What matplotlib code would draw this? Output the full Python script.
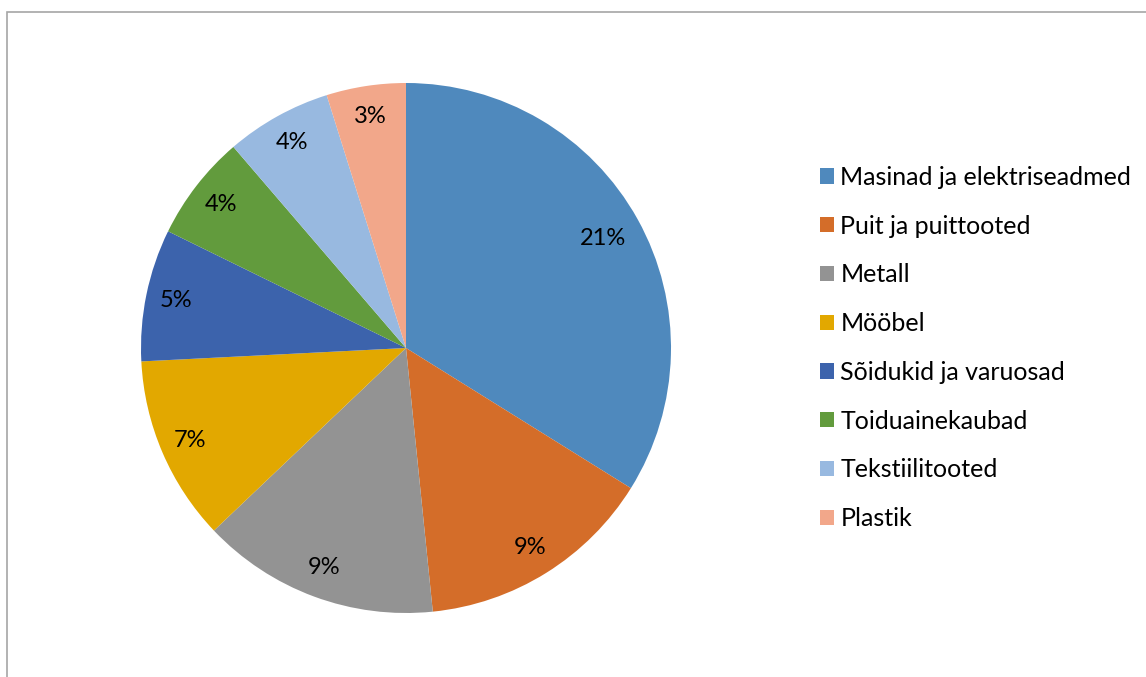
import numpy as np
import matplotlib.pyplot as plt
from matplotlib.patches import Patch, Rectangle

plt.rcParams['font.family'] = ['Lato', 'DejaVu Sans']

categories = [
    "Masinad ja elektriseadmed",
    "Puit ja puittooted",
    "Metall",
    "Mööbel",
    "Sõidukid ja varuosad",
    "Toiduainekaubad",
    "Tekstiilitooted",
    "Plastik",
]
shares = [21, 9, 9, 7, 5, 4, 4, 3]
share_labels = ["21%", "9%", "9%", "7%", "5%", "4%", "4%", "3%"]

COLORS = ["#4F89BD", "#D46D29", "#939393", "#E2A800",
          "#3C63AC", "#629B3D", "#98B9E0", "#F2A78A"]

W, H = 1146, 677
fig = plt.figure(figsize=(W / 100, H / 100), dpi=100)

# pie axes placed so the pie is centred at (406, 348) px with radius 265 px
cx, cy, r = 406, 348, 265
ax = fig.add_axes([(cx - r) / W, (H - cy - r) / H, 2 * r / W, 2 * r / H])
wedges, _ = ax.pie(shares, colors=COLORS, startangle=90, counterclock=False,
                   radius=1.0, wedgeprops=dict(linewidth=0))
ax.set_xlim(-1, 1)
ax.set_ylim(-1, 1)
ax.set_aspect('equal')
ax.axis('off')

for w, lab in zip(wedges, share_labels):
    mid = np.deg2rad((w.theta1 + w.theta2) / 2)
    d = 0.85 if lab == "21%" else 0.885
    ax.text(d * np.cos(mid), d * np.sin(mid), lab, ha='center', va='center',
            fontsize=17, color='black')

handles = [Patch(facecolor=c, edgecolor='none') for c in COLORS]
fig.legend(handles, categories, loc='center left',
           bbox_to_anchor=(820 / W, 1 - 348 / H), frameon=False,
           fontsize=18, handlelength=0.56, handleheight=0.56,
           handletextpad=0.25, labelspacing=1.03, borderaxespad=0,
           borderpad=0)

# chart-area frame (left and top edges visible)
fig.patches.append(Rectangle((7 / W, -0.1), 1.2, 1.1 - 12 / H,
                             transform=fig.transFigure, fill=False,
                             edgecolor='#A6A6A6', linewidth=1.2))

fig.savefig('out.png', dpi=100)
